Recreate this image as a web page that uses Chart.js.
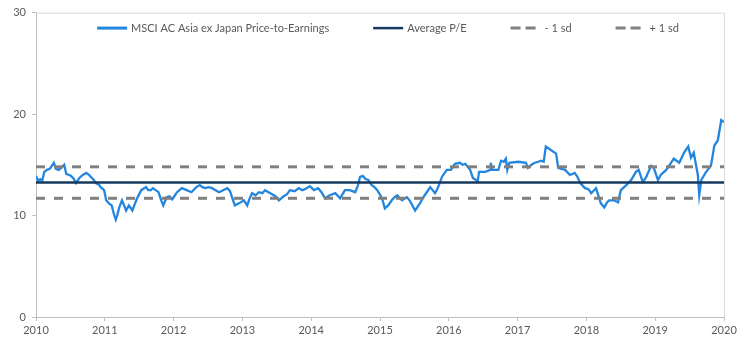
<!DOCTYPE html>
<html>
<head>
<meta charset="utf-8">
<script src="https://cdn.jsdelivr.net/npm/chart.js@4.4.1/dist/chart.umd.min.js"></script>
<style>
html,body{margin:0;padding:0;background:#ffffff;}
#c{display:block;}
</style>
</head>
<body>
<canvas id="c" width="746" height="348"></canvas>
<script>
// ---- Data ----
const years = [
  2010.00,2010.03,2010.06,2010.09,2010.12,2010.16,2010.20,2010.23,2010.26,2010.29,
  2010.33,2010.38,2010.41,2010.44,2010.48,2010.51,2010.55,2010.58,2010.63,2010.68,
  2010.73,2010.77,2010.80,2010.84,2010.87,2010.92,2010.94,2010.99,2011.02,2011.06,
  2011.10,2011.13,2011.16,2011.18,2011.21,2011.25,2011.28,2011.31,2011.35,2011.40,
  2011.44,2011.47,2011.53,2011.60,2011.63,2011.67,2011.70,2011.74,2011.78,2011.82,
  2011.85,2011.90,2011.94,2011.98,2012.02,2012.05,2012.12,2012.19,2012.26,2012.33,
  2012.38,2012.42,2012.46,2012.51,2012.56,2012.61,2012.66,2012.72,2012.78,2012.82,
  2012.85,2012.89,2012.95,2013.02,2013.07,2013.10,2013.14,2013.19,2013.24,2013.29,
  2013.33,2013.38,2013.43,2013.48,2013.53,2013.60,2013.65,2013.69,2013.76,2013.82,
  2013.87,2013.91,2013.98,2014.04,2014.10,2014.15,2014.20,2014.27,2014.35,2014.42,
  2014.49,2014.56,2014.64,2014.68,2014.71,2014.75,2014.79,2014.83,2014.88,2014.92,
  2014.96,2015.03,2015.07,2015.12,2015.17,2015.21,2015.25,2015.32,2015.39,2015.43,
  2015.47,2015.51,2015.58,2015.65,2015.73,2015.80,2015.84,2015.90,2015.97,2016.03,
  2016.09,2016.16,2016.20,2016.24,2016.31,2016.35,2016.42,2016.44,2016.53,2016.60,
  2016.61,2016.63,2016.72,2016.76,2016.80,2016.83,2016.85,2016.88,2017.01,2017.12,
  2017.15,2017.20,2017.25,2017.30,2017.34,2017.38,2017.41,2017.56,2017.59,2017.64,
  2017.69,2017.76,2017.83,2017.87,2017.91,2017.98,2018.03,2018.07,2018.14,2018.21,
  2018.26,2018.30,2018.33,2018.40,2018.46,2018.50,2018.58,2018.65,2018.72,2018.76,
  2018.82,2018.87,2018.94,2018.98,2019.04,2019.08,2019.16,2019.20,2019.27,2019.35,
  2019.42,2019.48,2019.52,2019.56,2019.62,2019.64,2019.67,2019.74,2019.81,2019.86,
  2019.91,2019.96,2020.00
];
const peRatio = [
  13.9,13.4,13.6,13.4,14.3,14.5,14.6,14.9,15.2,14.6,
  14.5,14.8,15.0,14.1,14.0,13.9,13.6,13.2,13.7,14.0,
  14.2,14.0,13.8,13.5,13.2,13.0,12.8,12.5,11.5,11.2,
  11.0,10.2,9.6,10.0,10.8,11.5,11.0,10.5,11.0,10.5,
  11.2,11.7,12.5,12.8,12.5,12.5,12.7,12.5,12.3,11.5,
  11.0,11.8,11.9,11.6,12.0,12.3,12.7,12.5,12.3,12.8,
  13.0,12.8,12.7,12.8,12.7,12.5,12.3,12.5,12.7,12.4,
  11.8,11.0,11.2,11.5,11.0,11.6,12.2,12.0,12.3,12.2,
  12.5,12.3,12.1,11.9,11.5,11.9,12.1,12.5,12.4,12.7,
  12.5,12.6,12.9,12.5,12.7,12.3,11.7,12.0,12.2,11.7,
  12.5,12.5,12.3,13.0,13.8,13.9,13.6,13.5,13.0,12.8,
  12.5,11.7,10.7,11.0,11.5,11.8,12.0,11.5,11.8,11.5,
  11.0,10.5,11.2,12.0,12.8,12.2,12.7,13.8,14.5,14.5,
  15.1,15.2,15.0,15.1,14.5,13.7,13.4,14.3,14.3,14.5,
  15.2,14.5,14.5,15.4,15.3,15.6,14.5,15.2,15.3,15.2,
  14.7,15.0,15.2,15.3,15.4,15.3,16.8,16.1,14.7,14.6,
  14.5,14.0,14.2,13.8,13.2,12.7,12.6,12.2,12.7,11.2,
  10.8,11.3,11.5,11.5,11.3,12.5,13.0,13.5,14.3,14.5,
  13.3,13.8,14.9,14.7,13.5,14.0,14.5,14.9,15.6,15.2,
  16.2,16.8,15.7,16.2,14.0,12.0,13.5,14.3,14.9,16.9,
  17.4,19.4,19.2
];
const averagePE = 13.25;
const minusOneSd = 11.7;
const plusOneSd = 14.8;
const xRange = [2010, 2020];
const yTicks = [0, 10, 20, 30];
const seriesLabels = ['MSCI AC Asia ex Japan Price-to-Earnings', 'Average P/E', '- 1 sd', '+ 1 sd'];

// ---- Build datasets ----
const pePoints = years.map((x, i) => ({ x: x, y: peRatio[i] }));
const flat = v => xRange.map(x => ({ x: x, y: v }));

Chart.defaults.font.family = 'Lato, "Liberation Sans", sans-serif';
Chart.defaults.font.size = 11;
Chart.defaults.color = '#595959';

const framePlugin = {
  id: 'frame',
  beforeDatasetsDraw(chart) {
    const { ctx, chartArea: a } = chart;
    ctx.save();
    ctx.strokeStyle = '#d9d9d9';
    ctx.lineWidth = 1;
    ctx.beginPath();
    ctx.moveTo(a.left, a.top + 0.5);
    ctx.lineTo(a.right + 0.5, a.top + 0.5);
    ctx.lineTo(a.right + 0.5, a.bottom);
    ctx.stroke();
    ctx.restore();
  }
};

const legendPlugin = {
  id: 'insideLegend',
  afterDraw(chart) {
    const { ctx, chartArea: a } = chart;
    ctx.save();
    ctx.font = '11px Lato, "Liberation Sans", sans-serif';
    const sample = 30, tgap = 4, igap = 44;
    const items = chart.data.datasets.map(ds => ({ ds, w: sample + tgap + ctx.measureText(ds.label).width }));
    const total = items.reduce((s, it) => s + it.w, 0) + igap * (items.length - 1);
    let x = (a.left + a.right) / 2 - total / 2 + 8;
    const y = a.top + 15.5;
    items.forEach(it => {
      ctx.strokeStyle = it.ds.borderColor;
      ctx.lineWidth = it.ds.legendWidth || it.ds.borderWidth;
      ctx.setLineDash(it.ds.legendDash || []);
      ctx.beginPath();
      ctx.moveTo(x, y);
      ctx.lineTo(x + sample, y);
      ctx.stroke();
      ctx.setLineDash([]);
      ctx.fillStyle = '#595959';
      ctx.textBaseline = 'middle';
      ctx.textAlign = 'left';
      ctx.fillText(it.ds.label, x + sample + tgap, y);
      x += it.w + igap;
    });
    ctx.restore();
  }
};

const axisGrid = {
  display: true,
  drawOnChartArea: false,
  drawTicks: true,
  tickLength: 4,
  color: '#bfbfbf'
};

new Chart(document.getElementById('c'), {
  type: 'line',
  data: {
    datasets: [
      { label: seriesLabels[0], data: pePoints, borderColor: '#2386de', borderWidth: 2.3, legendWidth: 3,
        pointRadius: 0, tension: 0, order: 4 },
      { label: seriesLabels[1], data: flat(averagePE), borderColor: '#17385e', borderWidth: 2.5,
        pointRadius: 0, order: 1 },
      { label: seriesLabels[2], data: flat(minusOneSd), borderColor: '#808080', borderWidth: 3,
        borderDash: [9, 9], legendDash: [10, 5], legendWidth: 3, pointRadius: 0, order: 2 },
      { label: seriesLabels[3], data: flat(plusOneSd), borderColor: '#808080', borderWidth: 3,
        borderDash: [9, 9], legendDash: [10, 5], legendWidth: 3, pointRadius: 0, order: 3 }
    ]
  },
  options: {
    responsive: false,
    devicePixelRatio: 1,
    animation: false,
    layout: { padding: { top: 12, right: 22, left: 0, bottom: 0 } },
    plugins: {
      legend: { display: false },
      tooltip: { enabled: false }
    },
    scales: {
      x: {
        type: 'linear',
        min: xRange[0],
        max: xRange[1],
        grid: axisGrid,
        border: { display: true, color: '#bfbfbf' },
        ticks: {
          stepSize: 1,
          autoSkip: false,
          maxRotation: 0,
          padding: 3,
          callback: v => String(v)
        },
        afterFit: s => { s.height = 31; }
      },
      y: {
        min: yTicks[0],
        max: yTicks[yTicks.length - 1],
        grid: axisGrid,
        border: { display: true, color: '#bfbfbf' },
        ticks: { stepSize: 10, padding: 6 },
        afterBuildTicks: s => { s.ticks = yTicks.map(v => ({ value: v })); },
        afterFit: s => { s.width = 36; }
      }
    }
  },
  plugins: [framePlugin, legendPlugin]
});
</script>
</body>
</html>
